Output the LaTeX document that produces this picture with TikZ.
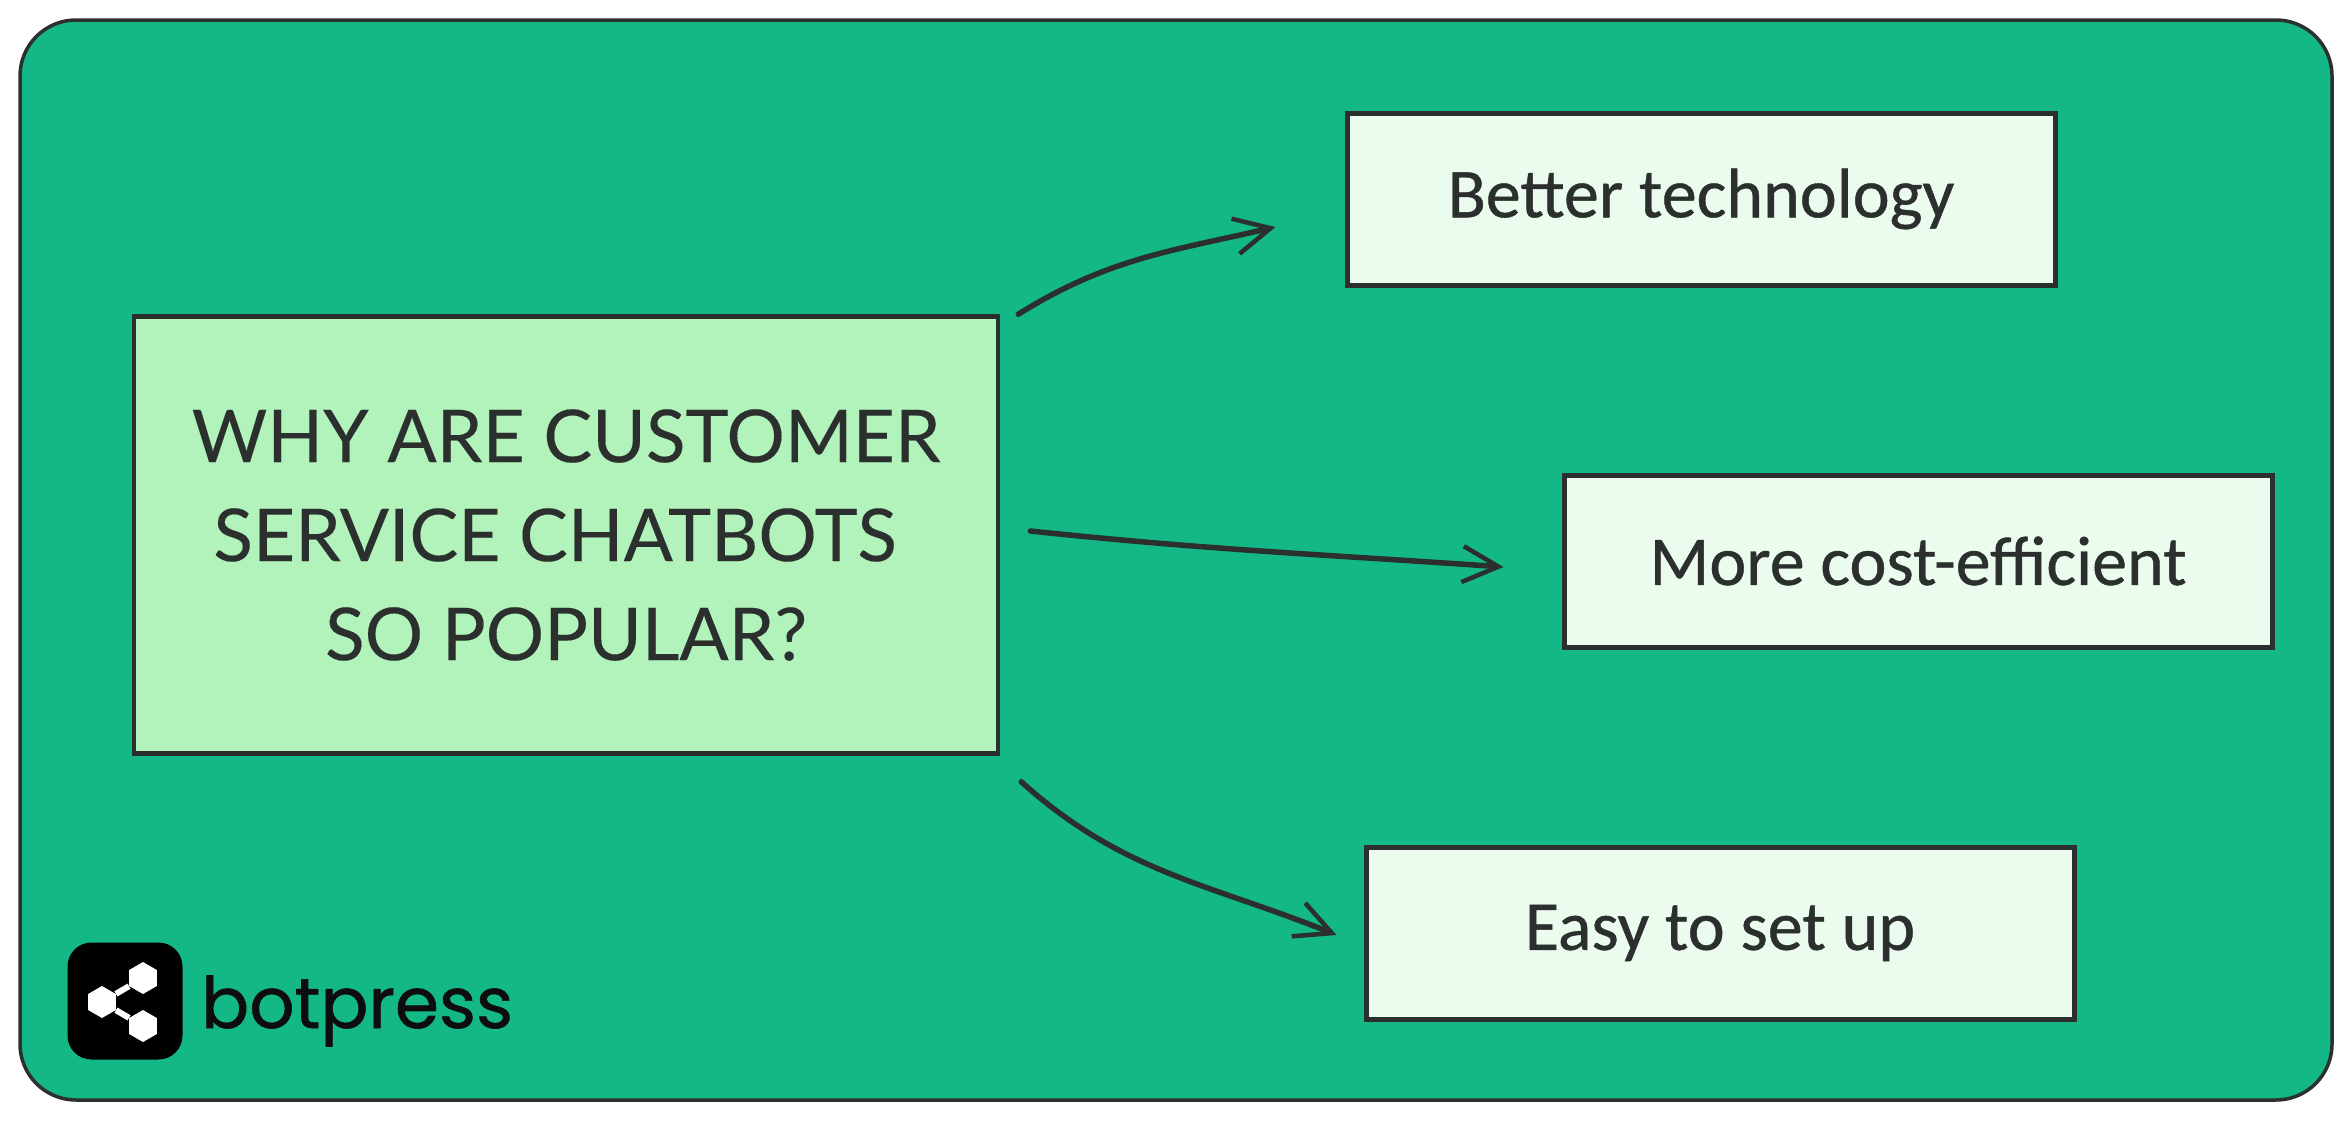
\documentclass[tikz,border=0pt]{standalone}
\usepackage{fontspec}
\setmainfont{Lato}[FakeBold=0.2]
\newfontfamily\handfont{Carlito}[FakeBold=0.6]
\newfontfamily\logofont{Poppins}[FakeBold=0.8]
\usetikzlibrary{arrows.meta,shapes.geometric}
\definecolor{panelgreen}{HTML}{14B886}
\definecolor{mintfill}{HTML}{B2F2BB}
\definecolor{palefill}{HTML}{EBFBEE}
\definecolor{inkline}{HTML}{2B2F2E}

\begin{document}
\begin{tikzpicture}[x=1pt,y=-1pt,
		panel/.style={draw=inkline,line width=3.5pt,fill=panelgreen,rounded corners=56pt},
		question/.style={draw=inkline,line width=4.5pt,fill=mintfill,minimum width=864pt,minimum height=437pt,
			align=center,text=inkline,font=\fontsize{73}{99}\selectfont},
		reason/.style={draw=inkline,line width=5pt,fill=palefill,minimum width=708pt,minimum height=172pt,
			text=inkline,font=\handfont\fontsize{70}{80}\selectfont},
		sketcharrow/.style={draw=inkline,line width=5.5pt,line cap=round,-{Straight Barb[length=36pt,width=36pt,line width=4.5pt]}},
		hexnode/.style={regular polygon,regular polygon sides=6,shape border rotate=30,fill=white,inner sep=0pt,minimum size=32pt},
		]
		\useasboundingbox (0,0) rectangle (2352,1128);
		\node[panel,minimum width=2312pt,minimum height=1080pt] (panel) at (1176,560) {};

		\node[question] (why) at (566,535) {WHY ARE CUSTOMER\\SERVICE CHATBOTS\hspace*{22pt}\mbox{}\\SO POPULAR?};
		\node[reason] (better) at (1701,199) {\raisebox{-3pt}{Better technology}};
		\node[reason] (cost) at (1918,561) {More cost-efficient};
		\node[reason] (easy) at (1720,933) {\raisebox{-2pt}{Easy to set up}};

		\draw[sketcharrow] ([xshift=18pt]why.north east) to[out=32,in=193] ([xshift=-69pt,yshift=-28pt]better.west);
		\draw[sketcharrow] ([xshift=30pt,yshift=4pt]why.east) to[out=-6,in=176] ([xshift=-58pt,yshift=-6pt]cost.west);
		\draw[sketcharrow] ([xshift=21pt,yshift=-26pt]why.south east) to[out=-42,in=158] ([xshift=-27pt,yshift=-2pt]easy.west);

		% logo
		\node[fill=black,rounded corners=24pt,minimum width=115pt,minimum height=117pt] (mark) at (125,1001) {};
		\node[hexnode] (hextop) at (143,978) {};
		\node[hexnode] (hexleft) at (102,1002) {};
		\node[hexnode] (hexbottom) at (143,1026) {};
		\draw[white,line width=6pt] (hextop) -- (hexleft) -- (hexbottom);
		\node[anchor=base west,inner sep=0pt,text=black!95,font=\logofont\fontsize{71}{80}\selectfont] (brand) at (201,1028) {botpress};
	\end{tikzpicture}
\end{document}
